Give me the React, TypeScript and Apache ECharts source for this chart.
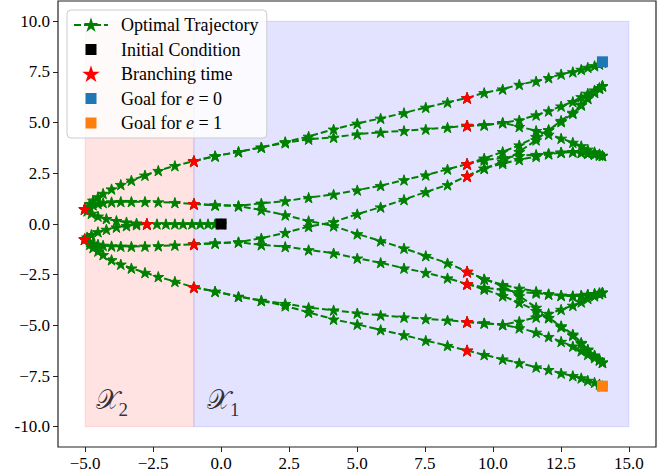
import React, { useEffect, useRef } from 'react';
import * as echarts from 'echarts';

// ---- axes ----
const xTicks = [-5, -2.5, 0, 2.5, 5, 7.5, 10, 12.5, 15];
const xTickLabels = ['−5.0', '−2.5', '0.0', '2.5', '5.0', '7.5', '10.0', '12.5', '15.0'];
const yTicks = [-10, -7.5, -5, -2.5, 0, 2.5, 5, 7.5, 10];
const yTickLabels = ['-10.0', '−7.5', '−5.0', '−2.5', '0.0', '2.5', '5.0', '7.5', '10.0'];

// ---- state-space regions ----
const regionX2 = [-5, -1];
const regionX1 = [-1, 15];
const regionY = [-10, 10];

// ---- trajectory tree ----
// stem from the initial condition to the first branching time
const xsStem = [0, -0.22, -0.48, -0.77, -1.07, -1.4, -1.7, -2.03, -2.36, -2.73];
const ysStem = [0, 0, 0, 0, 0, 0, 0, 0, 0, 0];

// first fork, towards x = -5
const xsFork = [-2.73, -3.11, -3.48, -3.85, -4.22, -4.53, -4.77, -4.93, -5.02];
const ysForkUp = [0, 0.04, 0.09, 0.16, 0.26, 0.38, 0.52, 0.64, 0.74];
const ysForkDown = [0, -0.04, -0.09, -0.16, -0.27, -0.39, -0.53, -0.65, -0.75];

// second fork, from x = -5 back to x = -1
const xsLeft = [-5.02, -4.83, -4.71, -4.53, -4.34, -4.03, -3.69, -3.3, -2.8, -2.31, -1.7, -1.0];
const ysLeftOuterUp = [0.74, 1.0, 1.16, 1.33, 1.5, 1.72, 1.94, 2.15, 2.4, 2.63, 2.87, 3.1];
const ysLeftInnerUp = [0.74, 0.86, 0.94, 1.0, 1.05, 1.08, 1.1, 1.1, 1.1, 1.08, 1.05, 0.99];
const ysLeftInnerDown = [-0.75, -0.87, -0.95, -1.01, -1.06, -1.09, -1.1, -1.11, -1.1, -1.08, -1.05, -1.0];
const ysLeftOuterDown = [-0.75, -1.01, -1.17, -1.34, -1.52, -1.77, -1.99, -2.18, -2.4, -2.6, -2.84, -3.12];

// third fork, from x = -1 to x = 9
const xsMid = [-1.0, -0.22, 0.64, 1.48, 2.36, 3.22, 4.14, 5.01, 5.87, 6.73, 7.53, 8.33, 9.05];
const ysMidA = [3.1, 3.35, 3.56, 3.78, 4.05, 4.32, 4.67, 4.96, 5.21, 5.48, 5.75, 6.0, 6.22];
const ysMidB = [3.1, 3.35, 3.56, 3.78, 4.0, 4.18, 4.27, 4.43, 4.52, 4.6, 4.67, 4.76, 4.85];
const ysMidC = [0.99, 0.93, 0.9, 1.02, 1.13, 1.3, 1.46, 1.67, 1.89, 2.17, 2.41, 2.7, 2.96];
const ysMidD = [0.99, 0.93, 0.88, 0.69, 0.44, 0.15, -0.1, -0.49, -0.84, -1.2, -1.57, -1.93, -2.35];
const ysMidE = [-1.0, -0.95, -0.89, -0.7, -0.43, -0.13, 0.1, 0.49, 0.83, 1.2, 1.58, 1.93, 2.36];
const ysMidF = [-1.0, -0.95, -0.9, -1.03, -1.12, -1.28, -1.44, -1.69, -1.91, -2.18, -2.4, -2.67, -2.96];
const ysMidG = [-3.12, -3.33, -3.58, -3.78, -3.93, -4.12, -4.25, -4.4, -4.5, -4.6, -4.68, -4.75, -4.83];
const ysMidH = [-3.12, -3.33, -3.58, -3.78, -4.04, -4.36, -4.7, -4.95, -5.22, -5.48, -5.75, -6.0, -6.24];

// last fork, from x = 9 to the end of the horizon
const xsRight = [9.05, 9.68, 10.36, 10.97, 11.59, 12.05, 12.51, 12.94, 13.25, 13.49, 13.74, 13.92, 14.03];
const ysRight1 = [6.22, 6.47, 6.65, 6.88, 7.04, 7.21, 7.39, 7.5, 7.62, 7.72, 7.8, 7.88, 7.97];
const ysRight2 = [4.85, 4.88, 4.99, 5.12, 5.37, 5.57, 5.81, 6.03, 6.27, 6.44, 6.6, 6.72, 6.82];
const ysRight3 = [4.85, 4.88, 4.99, 4.8, 4.6, 4.42, 4.22, 4.02, 3.85, 3.68, 3.55, 3.45, 3.38];
const ysRight4 = [2.96, 3.24, 3.56, 3.89, 4.3, 4.65, 5.04, 5.45, 5.86, 6.19, 6.48, 6.68, 6.8];
const ysRight5 = [2.96, 3.15, 3.26, 3.36, 3.42, 3.48, 3.54, 3.56, 3.52, 3.48, 3.44, 3.4, 3.37];
const ysRight6 = [2.36, 2.74, 3.07, 3.56, 4.14, 4.63, 5.1, 5.5, 5.9, 6.2, 6.5, 6.7, 6.82];
const ysRight7 = [2.36, 2.74, 2.98, 3.17, 3.33, 3.45, 3.52, 3.55, 3.52, 3.48, 3.44, 3.4, 3.37];
const ysRight8 = [-2.35, -2.72, -3.05, -3.55, -4.12, -4.62, -5.08, -5.5, -5.9, -6.22, -6.5, -6.7, -6.84];
const ysRight9 = [-2.35, -2.72, -3.0, -3.18, -3.33, -3.45, -3.52, -3.55, -3.52, -3.48, -3.44, -3.4, -3.37];
const ysRight10 = [-2.96, -3.22, -3.55, -3.88, -4.28, -4.63, -5.03, -5.44, -5.85, -6.18, -6.47, -6.68, -6.82];
const ysRight11 = [-2.96, -3.14, -3.25, -3.35, -3.41, -3.47, -3.53, -3.56, -3.53, -3.48, -3.44, -3.41, -3.38];
const ysRight12 = [-4.83, -4.89, -4.97, -4.81, -4.6, -4.42, -4.22, -4.02, -3.85, -3.68, -3.55, -3.45, -3.38];
const ysRight13 = [-4.83, -4.89, -4.97, -5.13, -5.35, -5.56, -5.8, -6.03, -6.26, -6.44, -6.6, -6.72, -6.82];
const ysRight14 = [-6.24, -6.45, -6.67, -6.86, -7.06, -7.19, -7.36, -7.49, -7.6, -7.72, -7.82, -7.9, -7.99];

// ---- special points ----
const initialCondition = [[0, 0]];
const branchingTimes = [
  [-2.73, 0],
  [-5.02, 0.74], [-5.02, -0.75],
  [-1.0, 3.1], [-1.0, 0.99], [-1.0, -1.0], [-1.0, -3.12],
  [9.05, 6.22], [9.05, 4.85], [9.05, 2.96], [9.05, 2.36],
  [9.05, -2.35], [9.05, -2.96], [9.05, -4.83], [9.05, -6.24],
];
const goalE0 = [[14.03, 8.0]];
const goalE1 = [[14.03, -8.0]];

const regionLabels = [
  { x: -4.6, y: -9.35, main: '𝒳', sub: '2' },
  { x: -0.5, y: -9.35, main: '𝒳', sub: '1' },
];

const zip = (xs: number[], ys: number[]) => xs.map((x, i) => [x, ys[i]]);

const trajectories = [
  zip(xsStem, ysStem),
  zip(xsFork, ysForkUp),
  zip(xsFork, ysForkDown),
  zip(xsLeft, ysLeftOuterUp),
  zip(xsLeft, ysLeftInnerUp),
  zip(xsLeft, ysLeftInnerDown),
  zip(xsLeft, ysLeftOuterDown),
  ...[ysMidA, ysMidB, ysMidC, ysMidD, ysMidE, ysMidF, ysMidG, ysMidH].map((ys) => zip(xsMid, ys)),
  ...[
    ysRight1, ysRight2, ysRight3, ysRight4, ysRight5, ysRight6, ysRight7,
    ysRight8, ysRight9, ysRight10, ysRight11, ysRight12, ysRight13, ysRight14,
  ].map((ys) => zip(xsRight, ys)),
];

const STAR =
  'path://M50 0 L61.23 34.55 L97.55 34.55 L68.16 55.9 L79.39 90.45 L50 69.1 L20.61 90.45 L31.84 55.9 L2.45 34.55 L38.77 34.55 Z';
const SQUARE = 'path://M0 0 L10 0 L10 10 L0 10 Z';
const GREEN = '#008000';
const FONT = '"Liberation Serif", "DejaVu Serif", serif';

const labelFor = (ticks: number[], labels: string[]) => (v: number) => {
  const i = ticks.findIndex((t) => Math.abs(t - v) < 1e-6);
  return i >= 0 ? labels[i] : '';
};

export default function App() {
  const ref = useRef<HTMLDivElement>(null);

  useEffect(() => {
    if (!ref.current) return;
    const chart = echarts.init(ref.current, undefined, { renderer: 'svg' });

    const trajectorySeries = trajectories.map((data, idx) => ({
      type: 'line',
      name: 'Optimal Trajectory',
      data,
      symbol: STAR,
      symbolSize: 11,
      symbolKeepAspect: true,
      showAllSymbol: true,
      itemStyle: { color: GREEN, borderColor: GREEN, borderWidth: 1, opacity: 1 },
      lineStyle: { color: GREEN, width: 2, type: [7, 3] },
      z: 2,
      silent: true,
      ...(idx === 0
        ? {
            markArea: {
              silent: true,
              data: [
                [
                  {
                    xAxis: regionX2[0],
                    yAxis: regionY[0],
                    itemStyle: {
                      color: 'rgba(255,0,0,0.11)',
                      borderColor: 'rgba(255,0,0,0.12)',
                      borderWidth: 1,
                    },
                  },
                  { xAxis: regionX2[1], yAxis: regionY[1] },
                ],
                [
                  {
                    xAxis: regionX1[0],
                    yAxis: regionY[0],
                    itemStyle: {
                      color: 'rgba(0,0,255,0.11)',
                      borderColor: 'rgba(0,0,255,0.12)',
                      borderWidth: 1,
                    },
                  },
                  { xAxis: regionX1[1], yAxis: regionY[1] },
                ],
              ],
            },
          }
        : {}),
    }));

    const option = {
      animation: false,
      backgroundColor: '#ffffff',
      grid: {
        left: 58,
        right: 14,
        top: 1,
        bottom: 28,
        show: true,
        borderColor: '#222222',
        borderWidth: 1.2,
        backgroundColor: 'transparent',
      },
      xAxis: {
        type: 'value',
        min: -6,
        max: 16,
        splitLine: { show: false },
        axisLine: { show: false, onZero: false },
        axisTick: {
          show: true,
          customValues: xTicks,
          length: 5,
          lineStyle: { color: '#222222', width: 1 },
        },
        axisLabel: {
          customValues: xTicks,
          formatter: labelFor(xTicks, xTickLabels),
          fontFamily: FONT,
          fontSize: 17,
          color: '#000000',
          margin: 8,
        },
      },
      yAxis: {
        type: 'value',
        min: -11,
        max: 11,
        splitLine: { show: false },
        axisLine: { show: false, onZero: false },
        axisTick: {
          show: true,
          customValues: yTicks,
          length: 5,
          lineStyle: { color: '#222222', width: 1 },
        },
        axisLabel: {
          customValues: yTicks,
          formatter: labelFor(yTicks, yTickLabels),
          fontFamily: FONT,
          fontSize: 17,
          color: '#000000',
          margin: 8,
        },
      },
      legend: {
        data: [
          { name: 'Optimal Trajectory' },
          { name: 'Initial Condition', icon: SQUARE },
          { name: 'Branching time', icon: STAR },
          { name: 'Goal for e = 0', icon: SQUARE },
          { name: 'Goal for e = 1', icon: SQUARE },
        ],
        orient: 'vertical',
        left: 67,
        top: 10,
        padding: [5, 8, 5, 6],
        itemGap: 4.5,
        itemWidth: 34,
        itemHeight: 11,
        symbolKeepAspect: true,
        z: 10,
        backgroundColor: 'rgba(255,255,255,0.8)',
        borderColor: '#cccccc',
        borderWidth: 1,
        borderRadius: 4,
        selectedMode: false,
        formatter: (name: string) => name.replace(/ e = /, ' {i|e} = '),
        textStyle: {
          fontFamily: FONT,
          fontSize: 18,
          lineHeight: 20,
          color: '#000000',
          padding: [0, 0, 0, 8],
          rich: {
            i: { fontFamily: FONT, fontSize: 18, lineHeight: 20, fontStyle: 'italic', color: '#000000' },
          },
        },
      },
      series: [
        ...trajectorySeries,
        {
          type: 'scatter',
          name: 'Branching time',
          data: branchingTimes,
          symbol: STAR,
          symbolSize: 12,
          symbolKeepAspect: true,
          itemStyle: { color: '#ff0000', borderColor: '#ff0000', borderWidth: 1, opacity: 1 },
          z: 4,
          silent: true,
        },
        {
          type: 'scatter',
          name: 'Initial Condition',
          data: initialCondition,
          symbol: 'rect',
          symbolSize: 11,
          itemStyle: { color: '#000000', opacity: 1 },
          z: 5,
          silent: true,
        },
        {
          type: 'scatter',
          name: 'Goal for e = 0',
          data: goalE0,
          symbol: 'rect',
          symbolSize: 11,
          itemStyle: { color: '#1f77b4', opacity: 1 },
          z: 5,
          silent: true,
        },
        {
          type: 'scatter',
          name: 'Goal for e = 1',
          data: goalE1,
          symbol: 'rect',
          symbolSize: 11,
          itemStyle: { color: '#ff7f0e', opacity: 1 },
          z: 5,
          silent: true,
        },
        {
          type: 'scatter',
          data: regionLabels.map((r) => ({ value: [r.x, r.y], main: r.main, sub: r.sub })),
          symbolSize: 1,
          itemStyle: { color: 'transparent' },
          z: 3,
          silent: true,
          label: {
            show: true,
            position: [0, 0],
            align: 'left',
            verticalAlign: 'bottom',
            formatter: (p: any) => `{m|${p.data.main}}{s|${p.data.sub}}`,
            rich: {
              m: { fontFamily: FONT, fontSize: 27, color: '#000000' },
              s: { fontFamily: FONT, fontSize: 19, color: '#000000', verticalAlign: 'bottom', padding: [0, 0, -6, 0] },
            },
          },
        },
      ],
    };

    chart.setOption(option as any);
    return () => chart.dispose();
  }, []);

  return (
    <div
      ref={ref}
      style={{ position: 'fixed', left: 0, top: 0, width: 670, height: 475 }}
    />
  );
}
